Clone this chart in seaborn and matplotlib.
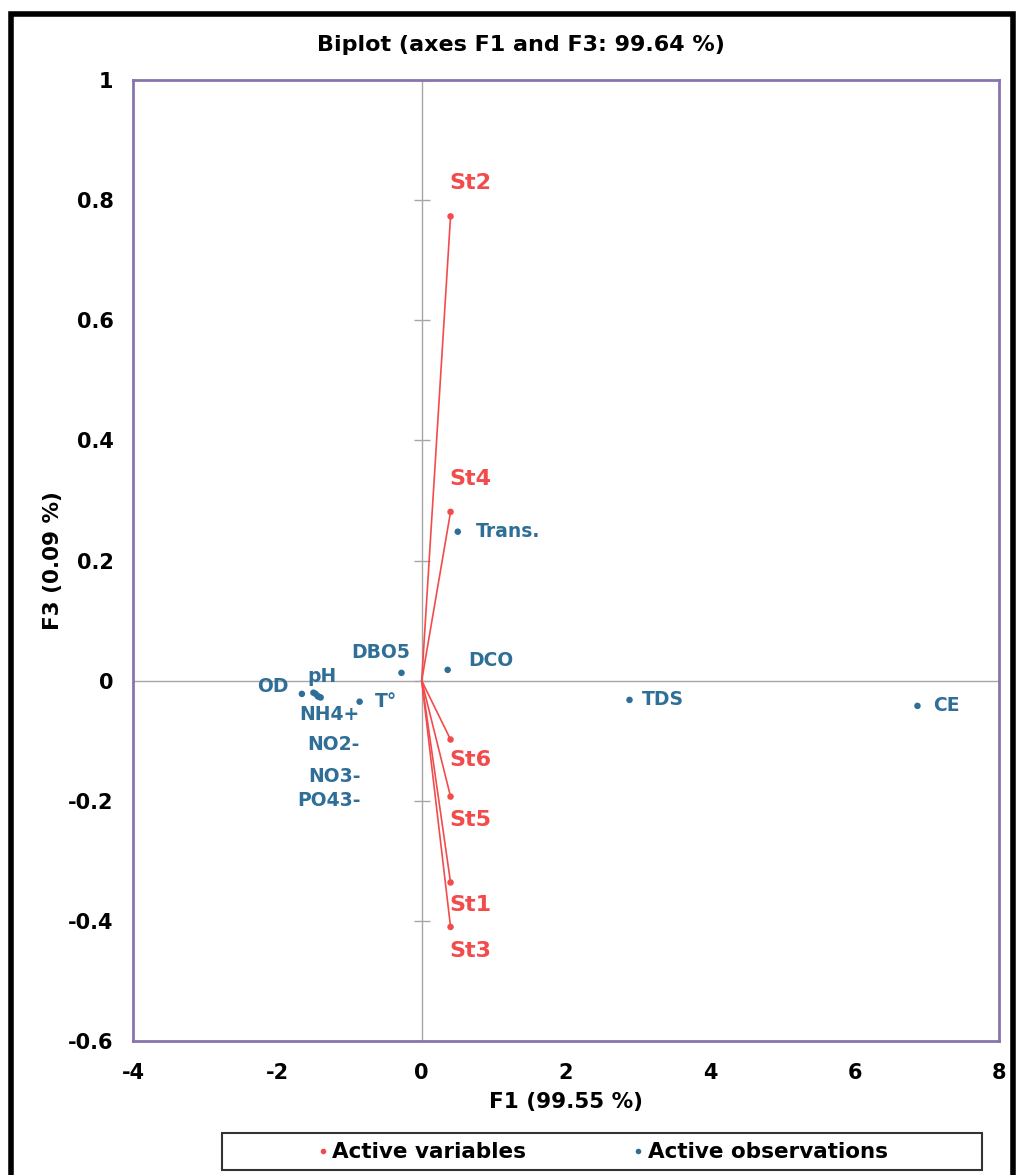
import matplotlib
matplotlib.use('Agg')
import matplotlib.pyplot as plt
from matplotlib.lines import Line2D
from matplotlib.patches import Rectangle
import pandas as pd
import seaborn as sns

# active variables (stations), coordinates on F1 / F3
var_names = ['St2', 'St4', 'St6', 'St5', 'St1', 'St3']
var_f1 = [0.40, 0.40, 0.40, 0.40, 0.40, 0.40]
var_f3 = [0.773, 0.281, -0.098, -0.193, -0.336, -0.410]

# active observations (parameters)
obs_names = ['Trans.', 'DCO', 'DBO5', 'T°', 'OD', 'pH', 'NH4+', 'NO2-', 'NO3-', 'PO43-', 'TDS', 'CE']
obs_f1 = [0.50, 0.36, -0.28, -0.86, -1.66, -1.50, -1.47, -1.44, -1.42, -1.40, 2.88, 6.87]
obs_f3 = [0.248, 0.018, 0.013, -0.035, -0.022, -0.020, -0.022, -0.026, -0.027, -0.028, -0.032, -0.042]

x_ticks = [-4, -2, 0, 2, 4, 6, 8]
y_ticks = [-0.6, -0.4, -0.2, 0, 0.2, 0.4, 0.6, 0.8, 1]
y_ticklabels = ['-0.6', '-0.4', '-0.2', '0', '0.2', '0.4', '0.6', '0.8', '1']

RED = '#F24B4B'
BLUE = '#2F6F97'
FRAME = '#8A74AE'

# label offsets in points (text placement only)
var_offsets = {'St2': (14, 24), 'St4': (14, 24), 'St6': (14, -15), 'St5': (14, -16.5),
               'St1': (14, -16.5), 'St3': (14, -17)}
obs_offsets = {'Trans.': (36, 0), 'DCO': (31, 6.5), 'DBO5': (-15, 15), 'T°': (19, 0),
               'OD': (-21, 5), 'pH': (6, 12), 'NH4+': (10, -15), 'NO2-': (11, -35),
               'NO3-': (11, -57), 'PO43-': (6, -74), 'TDS': (24, 0), 'CE': (21, 0)}

df_var = pd.DataFrame({'name': var_names, 'F1': var_f1, 'F3': var_f3})
df_obs = pd.DataFrame({'name': obs_names, 'F1': obs_f1, 'F3': obs_f3})

sns.set_style('white')
plt.rcParams['font.family'] = ['DejaVu Sans']
plt.rcParams['text.color'] = 'black'

fig = plt.figure(figsize=(10.17, 11.75), dpi=100)
ax = fig.add_axes([0.1308, 0.1140, 0.8515, 0.8179])

ax.axhline(0, color='#A6A6A6', lw=1, zorder=0)
ax.axvline(0, color='#A6A6A6', lw=1, zorder=0)
# small ticks on the vertical zero line
ax.plot([0] * len(y_ticks), y_ticks, ls='none', marker='_', ms=12, color='#A6A6A6', zorder=0)

for x, y in zip(var_f1, var_f3):
    ax.plot([0, x], [0, y], color=RED, lw=1.2, zorder=2)

sns.scatterplot(data=df_var, x='F1', y='F3', color=RED, s=22, edgecolor='none', ax=ax, zorder=3)
sns.scatterplot(data=df_obs, x='F1', y='F3', color=BLUE, s=22, edgecolor='none', ax=ax, zorder=3)

for n, x, y in zip(var_names, var_f1, var_f3):
    ax.annotate(n, (x, y), xytext=var_offsets[n], textcoords='offset points',
                ha='center', va='center', color=RED, fontsize=16, fontweight='bold')
for n, x, y in zip(obs_names, obs_f1, obs_f3):
    ax.annotate(n, (x, y), xytext=obs_offsets[n], textcoords='offset points',
                ha='center', va='center', color=BLUE, fontsize=13.5, fontweight='bold')

ax.set_xlim(-4, 8)
ax.set_ylim(-0.6, 1)
ax.set_xticks(x_ticks)
ax.set_yticks(y_ticks)
ax.set_xticklabels([str(t) for t in x_ticks])
ax.set_yticklabels(y_ticklabels)
ax.tick_params(length=0, labelsize=15, pad=14, labelcolor='black')
ax.tick_params(axis='x', pad=16)
for lab in ax.get_xticklabels() + ax.get_yticklabels():
    lab.set_fontweight('bold')
for s in ax.spines.values():
    s.set_color(FRAME)
    s.set_linewidth(2)

ax.set_xlabel('F1 (99.55 %)', fontsize=15.5, fontweight='bold', labelpad=6, color='black')
ax.set_ylabel('F3 (0.09 %)', fontsize=15.5, fontweight='bold', labelpad=4, color='black')
fig.text(0.512, 0.962, 'Biplot (axes F1 and F3: 99.64 %)', ha='center', va='center',
         fontsize=16, fontweight='bold', color='black')

# legend below the plot
fig.patches.append(Rectangle((0.218, 0.004), 0.748, 0.0315, transform=fig.transFigure,
                             fill=False, edgecolor='#333333', lw=1.5))
handles = [Line2D([], [], ls='none', marker='o', ms=3, color=RED, label='Active variables'),
           Line2D([], [], ls='none', marker='o', ms=3, color=BLUE, label='Active observations')]
fig.legend(handles=handles, ncol=2, loc='center', bbox_to_anchor=(0.592, 0.0195),
           frameon=False, handletextpad=0.15, handlelength=0.6, columnspacing=4.9,
           prop={'weight': 'bold', 'size': 15.5})

# outer frame of the picture
fig.patches.append(Rectangle((0.011, -0.01), 0.985, 0.998, transform=fig.transFigure,
                             fill=False, edgecolor='black', lw=4))

fig.savefig('out.png', dpi=100)
